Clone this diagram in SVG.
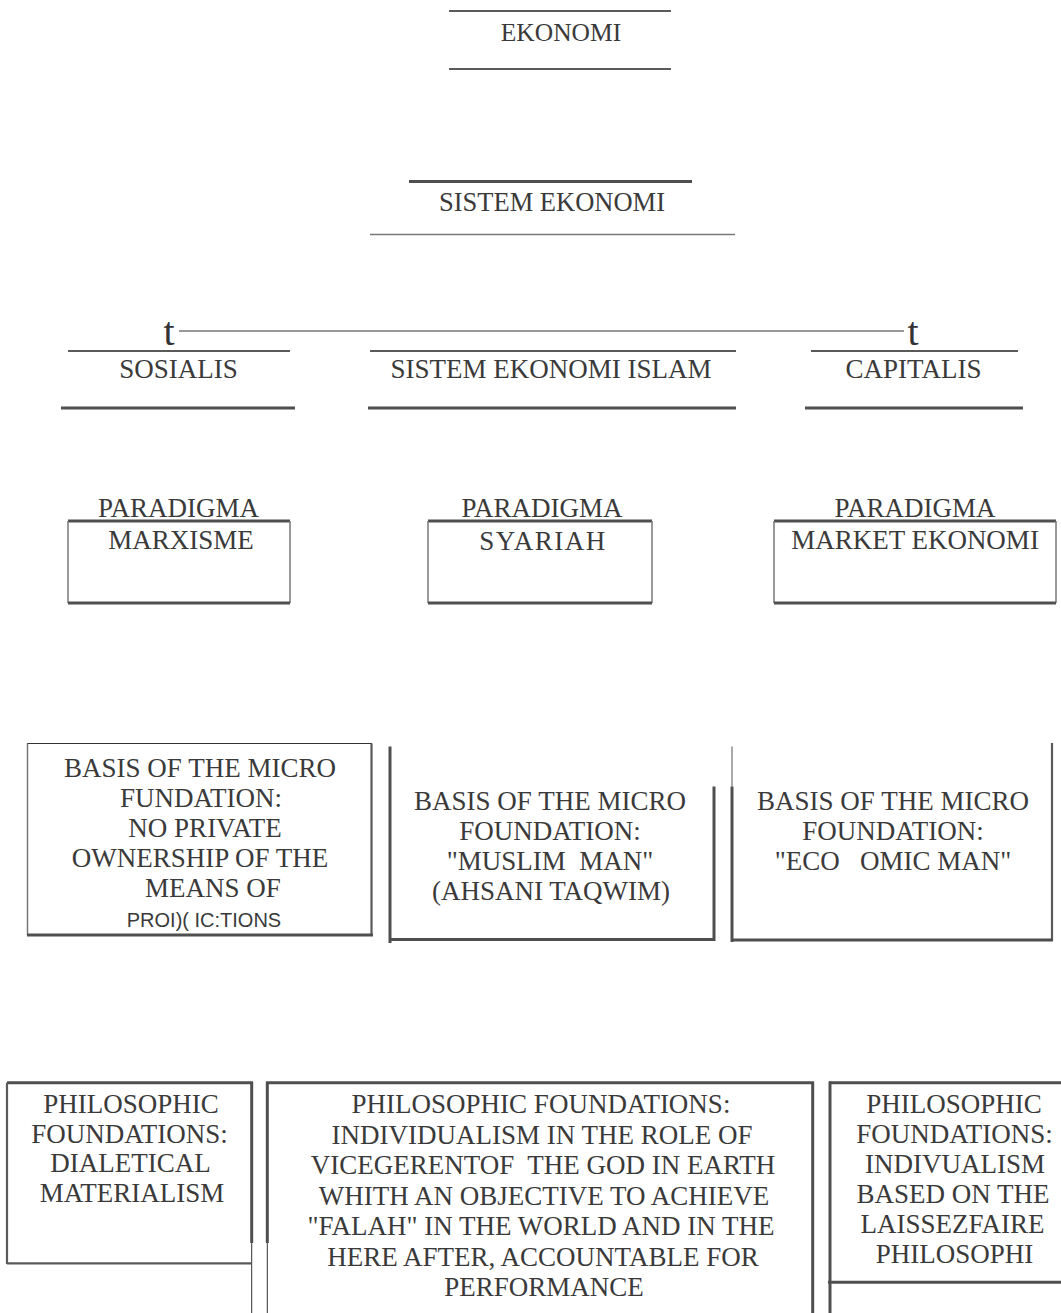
<svg xmlns="http://www.w3.org/2000/svg" width="1061" height="1313" viewBox="0 0 1061 1313">
<style>
text{font-family:"Liberation Serif","Times New Roman",serif;font-size:27px;fill:#3a3a3a;text-anchor:middle;white-space:pre}
.sans{font-family:"Liberation Sans",Arial,sans-serif;font-size:20px}
.tk{stroke:#4f4f4f;stroke-width:3;fill:none}
.md{stroke:#5a5a5a;stroke-width:2.2;fill:none}
.tn{stroke:#777;stroke-width:1.5;fill:none}
.hair{stroke:#333;stroke-width:1;fill:none}
.lt{stroke:#aaa;stroke-width:2;fill:none}
.arr{font-size:40px;fill:#333}
</style>
<rect width="1061" height="1313" fill="#fff"/>

<g id="connectors">
<line class="tn" x1="179" y1="331" x2="904" y2="331" stroke="#888"/>
<text class="arr" x="169" y="345">t</text>
<text class="arr" x="913" y="345">t</text>
</g>

<g id="ekonomi">
<line class="md" x1="449" y1="11" x2="671" y2="11"/>
<text x="561" y="41" style="font-size:25.5px">EKONOMI</text>
<line class="md" x1="449" y1="69" x2="671" y2="69"/>
</g>

<g id="sistem-ekonomi">
<line class="tk" x1="409" y1="181.5" x2="692" y2="181.5"/>
<text x="552" y="211" style="font-size:26.5px">SISTEM EKONOMI</text>
<line class="tn" x1="370" y1="234.5" x2="735" y2="234.5"/>
</g>

<g id="sosialis">
<line class="md" x1="68" y1="351" x2="290" y2="351"/>
<text x="178.5" y="378">SOSIALIS</text>
<line class="tk" x1="61" y1="408" x2="295" y2="408" stroke-width="3.5"/>
</g>

<g id="sistem-ekonomi-islam">
<line class="md" x1="370" y1="351" x2="736" y2="351"/>
<text x="551" y="378">SISTEM EKONOMI ISLAM</text>
<line class="tk" x1="368" y1="408" x2="736" y2="408" stroke-width="3.5"/>
</g>

<g id="capitalis">
<line class="md" x1="811" y1="351" x2="1018" y2="351"/>
<text x="913.5" y="378">CAPITALIS</text>
<line class="tk" x1="805" y1="408" x2="1023" y2="408" stroke-width="3.5"/>
</g>

<g id="paradigma-marxisme">
<text x="178.6" y="517">PARADIGMA</text>
<line class="tk" x1="68" y1="521" x2="290" y2="521"/>
<line class="tn" x1="68" y1="521" x2="68" y2="603"/>
<line class="tn" x1="290" y1="521" x2="290" y2="603"/>
<line class="tk" x1="68" y1="603" x2="290" y2="603"/>
<text x="181" y="549">MARXISME</text>
</g>

<g id="paradigma-syariah">
<text x="542" y="517">PARADIGMA</text>
<line class="tk" x1="428" y1="521" x2="652" y2="521"/>
<line class="tn" x1="428" y1="521" x2="428" y2="603"/>
<line class="tn" x1="652" y1="521" x2="652" y2="603"/>
<line class="tk" x1="428" y1="603" x2="652" y2="603"/>
<text x="543" y="550" style="letter-spacing:1.5px">SYARIAH</text>
</g>

<g id="paradigma-market">
<text x="915" y="517">PARADIGMA</text>
<line class="tk" x1="774" y1="521" x2="1056" y2="521"/>
<line class="tn" x1="774" y1="521" x2="774" y2="603"/>
<line class="tn" x1="1056" y1="521" x2="1056" y2="603"/>
<line class="tk" x1="774" y1="603" x2="1056" y2="603"/>
<text x="915" y="549">MARKET EKONOMI</text>
</g>

<g id="basis-sosialis">
<line class="hair" x1="27" y1="743.5" x2="372" y2="743.5" stroke-width="1.5"/>
<line class="tn" x1="27.5" y1="743.5" x2="27.5" y2="935"/>
<line class="md" x1="371.5" y1="743.5" x2="371.5" y2="935"/>
<line class="tk" x1="27" y1="935" x2="373" y2="935"/>
<text x="200" y="777">BASIS OF THE MICRO</text>
<text x="201" y="807">FUNDATION:</text>
<text x="205" y="837">NO PRIVATE</text>
<text x="200" y="867">OWNERSHIP OF THE</text>
<text x="213" y="897">MEANS OF</text>
<text class="sans" x="204" y="927">PROI)( IC:TIONS</text>
</g>

<g id="basis-islam">
<line class="tk" x1="390" y1="746.5" x2="390" y2="943" stroke-width="2.5"/>
<line class="tk" x1="714" y1="786.5" x2="714" y2="941"/>
<line class="tk" x1="390" y1="939.5" x2="715" y2="939.5"/>
<text x="550" y="810">BASIS OF THE MICRO</text>
<text x="550" y="840">FOUNDATION:</text>
<text x="550" y="870">"MUSLIM  MAN"</text>
<text x="551" y="900">(AHSANI TAQWIM)</text>
</g>

<g id="basis-capitalis">
<line class="lt" x1="732" y1="746.5" x2="732" y2="786.5"/>
<line class="tk" x1="732" y1="786.5" x2="732" y2="942"/>
<line class="md" x1="1052" y1="743" x2="1052" y2="941" stroke-width="1.8"/>
<line class="tk" x1="731" y1="940" x2="1053" y2="940"/>
<text x="893" y="810">BASIS OF THE MICRO</text>
<text x="893" y="840">FOUNDATION:</text>
<text x="893" y="870">"ECO   OMIC MAN"</text>
</g>

<g id="philosophic-sosialis">
<line class="tk" x1="7" y1="1082.7" x2="253" y2="1082.7"/>
<line class="md" x1="7" y1="1082.7" x2="7" y2="1264" stroke-width="1.5"/>
<line class="tk" x1="251.7" y1="1082" x2="251.7" y2="1243" stroke-width="3.5"/>
<line class="hair" x1="251.7" y1="1243" x2="251.7" y2="1313"/>
<line class="md" x1="7" y1="1263.3" x2="252" y2="1263.3" stroke-width="2.5"/>
<text x="131" y="1113">PHILOSOPHIC</text>
<text x="129.5" y="1143">FOUNDATIONS:</text>
<text x="130.5" y="1172">DIALETICAL</text>
<text x="132" y="1202">MATERIALISM</text>
</g>

<g id="philosophic-islam">
<line class="tk" x1="267.3" y1="1082" x2="267.3" y2="1243" stroke-width="3.5"/>
<line class="hair" x1="267.3" y1="1243" x2="267.3" y2="1313"/>
<line class="tk" x1="266" y1="1082.7" x2="814" y2="1082.7"/>
<line class="tk" x1="812.7" y1="1082" x2="812.7" y2="1313"/>
<text x="541" y="1113">PHILOSOPHIC FOUNDATIONS:</text>
<text x="542" y="1143.5">INDIVIDUALISM IN THE ROLE OF</text>
<text x="543" y="1174">VICEGERENTOF  THE GOD IN EARTH</text>
<text x="544" y="1204.5">WHITH AN OBJECTIVE TO ACHIEVE</text>
<text x="541" y="1235">"FALAH" IN THE WORLD AND IN THE</text>
<text x="543" y="1265.5">HERE AFTER, ACCOUNTABLE FOR</text>
<text x="544" y="1296">PERFORMANCE</text>
</g>

<g id="philosophic-capitalis">
<line class="tk" x1="830" y1="1081.5" x2="830" y2="1313" stroke-width="2.5"/>
<line class="tk" x1="829" y1="1082.7" x2="1061" y2="1082.7"/>
<line class="tk" x1="828" y1="1282.3" x2="1061" y2="1282.3"/>
<text x="954" y="1113">PHILOSOPHIC</text>
<text x="954.5" y="1143">FOUNDATIONS:</text>
<text x="955" y="1173">INDIVUALISM</text>
<text x="953" y="1203">BASED ON THE</text>
<text x="952.5" y="1233">LAISSEZFAIRE</text>
<text x="954.5" y="1263">PHILOSOPHI</text>
</g>
</svg>
